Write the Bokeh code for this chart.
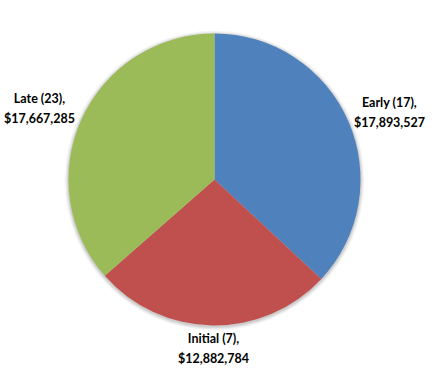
import math
from bokeh.plotting import figure
from bokeh.models import ColumnDataSource, Range1d
from bokeh.core.properties import value
from bokeh.embed import file_html
from bokeh.resources import INLINE

categories = ["Early", "Initial", "Late"]
counts = [17, 7, 23]
amounts = [17893527, 12882784, 17667285]
colors = ["#4F81BD", "#C0504D", "#9BBB59"]

W, H = 428, 366
cx, cy, R = 214, 187, 146

total = sum(amounts)
starts, ends = [], []
acc = 0.0
for a in amounts:
    s = math.pi / 2 - 2 * math.pi * acc / total
    acc += a
    e = math.pi / 2 - 2 * math.pi * acc / total
    starts.append(s)
    ends.append(e)

labels = [f"{c} ({n}),\n${a:,}" for c, n, a in zip(categories, counts, amounts)]
lx = [389, 213, 39]
ly = [254, 18, 258]

src = ColumnDataSource(dict(cat=categories, start=starts, end=ends, color=colors,
                            label=labels, lx=lx, ly=ly))

p = figure(width=W, height=H, x_range=Range1d(0, W), y_range=Range1d(0, H),
           output_backend="svg", toolbar_location=None, min_border=0)
p.axis.visible = False
p.grid.visible = False
p.outline_line_color = None
p.background_fill_color = "white"
p.border_fill_color = "white"

# soft shadow
for dr, al in [(4, 0.03), (3, 0.04), (2, 0.06), (1, 0.08)]:
    p.circle(x=[cx], y=[cy - 1], radius=R + dr, radius_units="data",
             fill_color="#000000", fill_alpha=al, line_color=None)

p.wedge(x=cx, y=cy, radius=R, start_angle="start", end_angle="end",
        direction="clock", fill_color="color", line_color=None, source=src)

p.text(x="lx", y="ly", text="label", source=src, text_align="center",
       text_baseline="middle", text_font=value("Lato"), text_font_style="bold",
       text_font_size="12.5px", text_color="#000000", text_line_height=1.3)

open("out.html", "w").write(file_html(p, INLINE))
